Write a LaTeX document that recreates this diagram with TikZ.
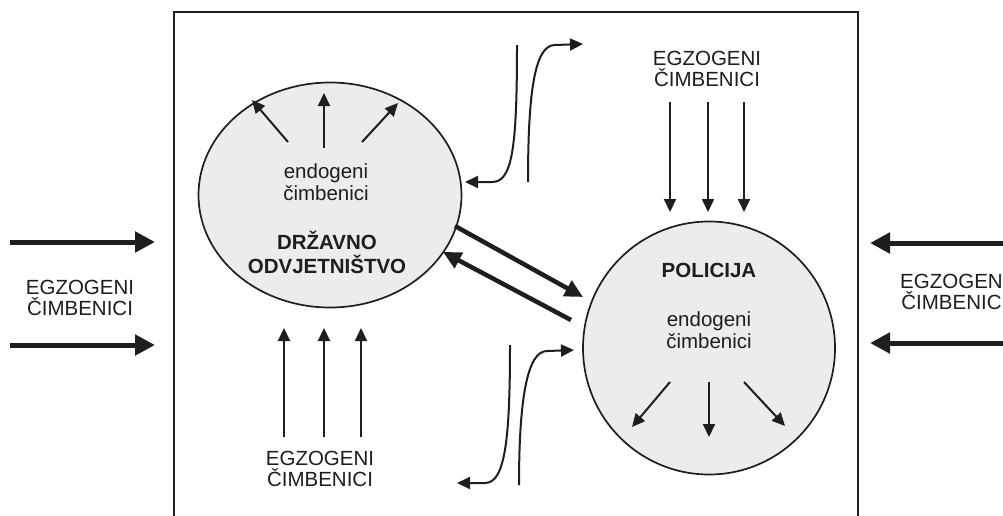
\documentclass[tikz,border=0pt]{standalone}
\usepackage{fontspec}
\setmainfont{Liberation Sans}
\usetikzlibrary{arrows.meta,shapes.geometric}
\definecolor{ink}{HTML}{1E1E1E}
\definecolor{disc}{HTML}{ECECEC}
\tikzset{
  lbl/.style={font=\fontsize{20.5}{21.5}\selectfont, text=ink, align=center, inner sep=0pt},
  blbl/.style={lbl, font=\fontsize{20.5}{24}\selectfont\bfseries},
  org/.style={ellipse, draw=ink, line width=1.7pt, fill=disc, inner sep=0pt},
  thin/.style={draw=ink, line width=2pt, -{Triangle[length=13pt,width=12pt]}},
  thick/.style={draw=ink, line width=5pt, -{Triangle[length=20pt,width=20pt]}},
  mid/.style={draw=ink, line width=4.5pt, -{Triangle[length=18pt,width=17pt]}},
  curv/.style={draw=ink, line width=2pt, -{Triangle[length=13pt,width=12pt]}},
}
\begin{document}
\begin{tikzpicture}[x=1pt,y=-1pt]
\useasboundingbox (0,0) rectangle (1003,515);
\clip (0,0) rectangle (1003,515);
\fill[white] (0,0) rectangle (1003,515);
% frame
\draw[ink, line width=2.5pt] (174,540) -- (174,12) -- (858,12) -- (858,540);
% organisations
\node[org, minimum width=263pt, minimum height=225pt] (dod) at (330,195) {};
\node[org, minimum width=252pt, minimum height=253pt] (pol) at (709,348) {};
% texts inside left
\node[lbl] (endoL) at (326,182) {endogeni\\čimbenici};
\node[blbl] (dodname) at (327,252) {DRŽAVNO\\ODVJETNIŠTVO};
% texts inside right
\node[blbl] (polname) at (709,270) {POLICIJA};
\node[lbl] (endoR) at (709,330) {endogeni\\čimbenici};
% endogenous arrows left
\coordinate (l1s) at (288,142); \coordinate (l1e) at (252,100);
\coordinate (l2s) at (324,148); \coordinate (l2e) at (324,93);
\coordinate (l3s) at (362,142); \coordinate (l3e) at (398,103);
\draw[thin] (l1s) -- (l1e);
\draw[thin] (l2s) -- (l2e);
\draw[thin] (l3s) -- (l3e);
% endogenous arrows right
\coordinate (r1s) at (670,382); \coordinate (r1e) at (632,427);
\coordinate (r2s) at (709,382); \coordinate (r2e) at (709,437);
\coordinate (r3s) at (744,382); \coordinate (r3e) at (785,426);
\draw[thin] (r1s) -- (r1e);
\draw[thin] (r2s) -- (r2e);
\draw[thin] (r3s) -- (r3e);
% exogenous labels
\node[lbl] (exL) at (80,298) {EGZOGENI\\ČIMBENICI};
\node[lbl, anchor=west] (exR) at (900,292) {EGZOGENI\\ČIMBENICI};
\node[lbl] (exT) at (707,69) {EGZOGENI\\ČIMBENICI};
\node[lbl] (exB) at (320,469) {EGZOGENI\\ČIMBENICI};
% thick side arrows
\coordinate (la1) at (10,242); \coordinate (la1e) at (155,242);
\coordinate (la2) at (10,345); \coordinate (la2e) at (155,345);
\coordinate (ra1) at (1010,243); \coordinate (ra1e) at (870,243);
\coordinate (ra2) at (1010,343); \coordinate (ra2e) at (870,343);
\draw[thick] (la1) -- (la1e);
\draw[thick] (la2) -- (la2e);
\draw[thick] (ra1) -- (ra1e);
\draw[thick] (ra2) -- (ra2e);
% top exogenous arrows
\coordinate (t1) at (670,102); \coordinate (t1e) at (670,212);
\coordinate (t2) at (708,102); \coordinate (t2e) at (708,212);
\coordinate (t3) at (744,102); \coordinate (t3e) at (744,212);
\draw[thin] (t1) -- (t1e);
\draw[thin] (t2) -- (t2e);
\draw[thin] (t3) -- (t3e);
% bottom exogenous arrows
\coordinate (b1) at (284,437); \coordinate (b1e) at (284,328);
\coordinate (b2) at (324,437); \coordinate (b2e) at (324,328);
\coordinate (b3) at (361,437); \coordinate (b3e) at (361,328);
\draw[thin] (b1) -- (b1e);
\draw[thin] (b2) -- (b2e);
\draw[thin] (b3) -- (b3e);
% interaction arrows
\coordinate (m1s) at (455,226); \coordinate (m1e) at (583,297);
\coordinate (m2s) at (571,320); \coordinate (m2e) at (443,252);
\draw[mid] (m1s) -- (m1e);
\draw[mid] (m2s) -- (m2e);
% curved arrows top
\coordinate (ca) at (517,45); \coordinate (cae) at (465,182);
\coordinate (cb) at (528,182); \coordinate (cbe) at (583,44);
\draw[curv] (ca) .. controls (517,150) and (512,182) .. (492,182) -- (cae);
\draw[curv] (cb) .. controls (528,90) and (535,45) .. (555,45) -- (cbe);
% curved arrows bottom
\coordinate (cc) at (510,345); \coordinate (cce) at (457,483);
\coordinate (cd) at (519,485); \coordinate (cde) at (574,350);
\draw[curv] (cc) .. controls (510,440) and (505,483) .. (485,483) -- (cce);
\draw[curv] (cd) .. controls (519,400) and (527,351) .. (547,351) -- (cde);
\end{tikzpicture}
\end{document}
